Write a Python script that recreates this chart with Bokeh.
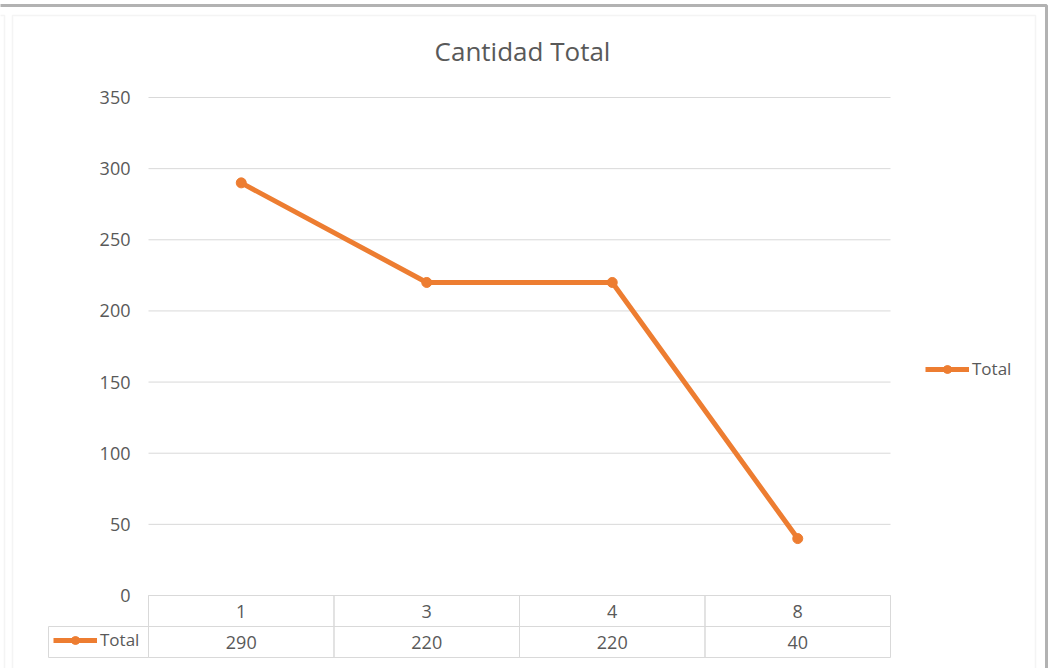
from bokeh.plotting import figure
from bokeh.models import Range1d, Legend, LegendItem, BoxAnnotation, Label
from bokeh.core.properties import value
from bokeh.embed import file_html
from bokeh.resources import INLINE

# ---- data ----
categories = ["1", "3", "4", "8"]
totals = [290, 220, 220, 40]
y_ticks = [0, 50, 100, 150, 200, 250, 300, 350]
series_name = "Total"
title_text = "Cantidad Total"

# ---- style / layout ----
ORANGE = "#ED7D31"
TXT = "#595959"
GRID = "#D9D9D9"
FONT = "Open Sans"
W, H = 1050, 668
PLOT_L, PLOT_R, PLOT_T, PLOT_B = 148, 890, 97, 595   # plot-area box (px)
YMAX = 350
n = len(categories)
band = (PLOT_R - PLOT_L) / n            # px per category
ppu = (PLOT_B - PLOT_T) / YMAX          # px per y unit
ROW = 31 / ppu                          # data-table row height (y units)
LEFT_CELL = 100 / band                  # width of the table's legend cell

xs = [i + 0.5 for i in range(n)]        # category centres on the band scale

p = figure(width=W, height=H,
           x_range=Range1d(-PLOT_L / band, n + (W - PLOT_R) / band),
           y_range=Range1d(-(H - PLOT_B) / ppu, YMAX + PLOT_T / ppu),
           output_backend="svg", toolbar_location=None,
           min_border=0)
p.axis.visible = False
p.grid.visible = False
p.outline_line_color = None
p.background_fill_color = "white"
p.border_fill_color = "white"

# gridlines + y tick labels
p.segment(x0=[0] * len(y_ticks), x1=[n] * len(y_ticks), y0=y_ticks, y1=y_ticks,
          line_color=GRID, line_width=1)
p.text(x=[0] * len(y_ticks), y=y_ticks, text=[str(t) for t in y_ticks],
       x_offset=-18, text_align="right", text_baseline="middle",
       text_font=value(FONT), text_font_size="18px", text_color=TXT)

# data table
p.rect(x=xs, y=[-ROW / 2] * n, width=1, height=ROW,
       fill_color=None, line_color=GRID, line_width=1)
p.rect(x=xs, y=[-1.5 * ROW] * n, width=1, height=ROW,
       fill_color=None, line_color=GRID, line_width=1)
p.rect(x=[-LEFT_CELL / 2], y=[-1.5 * ROW], width=LEFT_CELL, height=ROW,
       fill_color=None, line_color=GRID, line_width=1)
p.text(x=xs, y=[-ROW / 2] * n, text=categories,
       text_align="center", text_baseline="middle", text_font=value(FONT),
       text_font_size="18px", text_color=TXT)
p.text(x=xs, y=[-1.5 * ROW] * n, text=[str(v) for v in totals],
       text_align="center", text_baseline="middle", text_font=value(FONT),
       text_font_size="18px", text_color=TXT)

# series
ln = p.line(x=xs, y=totals, line_color=ORANGE, line_width=5)
mk = p.scatter(x=xs, y=totals, marker="circle", size=10,
               fill_color=ORANGE, line_color=ORANGE)

# title
p.add_layout(Label(x=522, y=H - 50, x_units="screen", y_units="screen",
                   text=title_text, text_align="center", text_baseline="middle",
                   text_font=FONT, text_font_size="26px", text_color=TXT))

# chart border and window edges
p.add_layout(BoxAnnotation(left=12, right=1035, top=H - 15, bottom=-20,
                           left_units="screen", right_units="screen",
                           top_units="screen", bottom_units="screen",
                           fill_color=None, line_color=GRID, line_width=1.5))
p.add_layout(BoxAnnotation(left=-20, right=4, top=H - 15, bottom=-20,
                           left_units="screen", right_units="screen",
                           top_units="screen", bottom_units="screen",
                           fill_color=None, line_color=GRID, line_width=1.5))
p.add_layout(BoxAnnotation(left=-20, right=1046, top=H - 5, bottom=-20,
                           left_units="screen", right_units="screen",
                           top_units="screen", bottom_units="screen",
                           fill_color=None, line_color="black", line_width=3))


def make_legend(loc):
    return Legend(items=[LegendItem(label=series_name, renderers=[ln, mk])],
                  location=loc, orientation="vertical",
                  background_fill_alpha=0, border_line_color=None,
                  padding=0, margin=0, spacing=0,
                  glyph_width=44, glyph_height=20, label_standoff=3,
                  label_text_font=FONT, label_text_font_size="17px",
                  label_text_color=TXT)


p.add_layout(make_legend((925, H - 370 - 10)))
p.add_layout(make_legend((53, H - 641 - 10)))

open("out.html", "w").write(file_html(p, INLINE))
